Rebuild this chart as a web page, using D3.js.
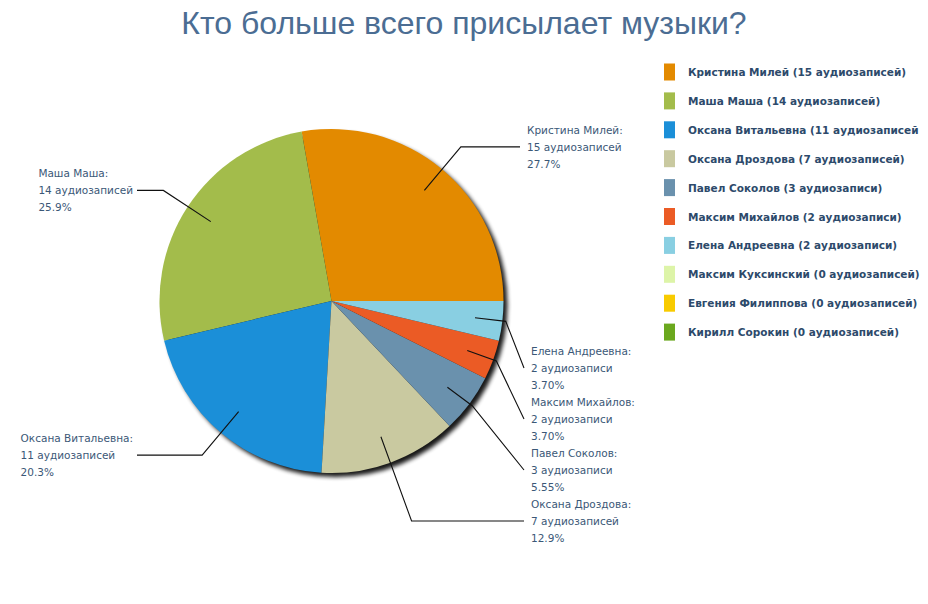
<!DOCTYPE html>
<html><head><meta charset="utf-8">
<script src="https://cdn.jsdelivr.net/npm/d3@7"></script>
<style>body{margin:0;background:#fff} svg{display:block}</style>
</head><body>
<svg id="c" width="928" height="604"></svg>
<script>
const title = "Кто больше всего присылает музыки?";
const categories = ["Кристина Милей","Маша Маша","Оксана Витальевна","Оксана Дроздова","Павел Соколов","Максим Михайлов","Елена Андреевна","Максим Куксинский","Евгения Филиппова","Кирилл Сорокин"];
const values = [15,14,11,7,3,2,2,0,0,0];
const countLabels = ["15 аудиозаписей","14 аудиозаписей","11 аудиозаписей","7 аудиозаписей","3 аудиозаписи","2 аудиозаписи","2 аудиозаписи","0 аудиозаписей","0 аудиозаписей","0 аудиозаписей"];
const legendLabels = ["Кристина Милей (15 аудиозаписей)","Маша Маша (14 аудиозаписей)","Оксана Витальевна (11 аудиозаписей","Оксана Дроздова (7 аудиозаписей)","Павел Соколов (3 аудиозаписи)","Максим Михайлов (2 аудиозаписи)","Елена Андреевна (2 аудиозаписи)","Максим Куксинский (0 аудиозаписей)","Евгения Филиппова (0 аудиозаписей)","Кирилл Сорокин (0 аудиозаписей)"];
const colors = ["#e38a00","#a3bc4b","#1b8fd8","#c9c9a0","#6a91ad","#eb5b25","#89cfe2","#ddf4a8","#f8cb00","#6ba81e"];
// leader routing per slice (layout only)
const routes = ["elbow","elbow","elbow","drop","direct","direct","direct"];

const cx = 331.5, cy = 301, R = 172;
const svg = d3.select("#c");
const total = d3.sum(values);
const pctFmt = v => {
  const p = v / total * 100;
  const k = p >= 10 ? 1 : 2;
  const f = Math.pow(10, k);
  return (Math.floor(p * f + 1e-9) / f).toFixed(k) + "%";
};

svg.append("text").attr("x", 464).attr("y", 34).attr("text-anchor", "middle")
  .attr("font-family", "Liberation Sans, Arial, sans-serif").attr("font-size", 32)
  .attr("fill", "#4b6d93").text(title);

const defs = svg.append("defs");
defs.append("filter").attr("id", "sh").attr("x", "-20%").attr("y", "-20%").attr("width", "140%").attr("height", "140%")
  .append("feGaussianBlur").attr("stdDeviation", 2.2);

const g = svg.append("g").attr("transform", `translate(${cx},${cy})`);
g.append("circle").attr("cx", 4).attr("cy", 4).attr("r", R).attr("fill", "#000").attr("opacity", 0.9).attr("filter", "url(#sh)");

const pie = d3.pie().value(d => d).sort(null).startAngle(Math.PI / 2).endAngle(Math.PI / 2 - 2 * Math.PI);
const arcs = pie(values);
const arc = d3.arc().innerRadius(0).outerRadius(R);
g.selectAll("path.slice").data(arcs.filter(d => d.value > 0)).join("path")
  .attr("class", "slice").attr("d", arc).attr("fill", d => colors[d.index]);

const pt = (a, r) => [Math.sin(a) * r, -Math.cos(a) * r];
const leftX = -194.5, rightX = 188.5, lineH = 17;
const stackY = i => 220 - (i - 3) * 3 * lineH;
const labG = g.append("g");
const line = d3.line();

arcs.forEach((d, i) => {
  if (!d.value) return;
  const m = (d.startAngle + d.endAngle) / 2;
  const S = pt(m, 0.84 * R);
  const right = Math.sin(m) > 0;
  let pts, ly, px;
  if (routes[i] === "elbow") {
    const E = pt(m, 1.17 * R);
    ly = E[1]; px = right ? rightX : leftX;
    pts = [S, E, [px, ly]];
  } else if (routes[i] === "drop") {
    ly = stackY(i);
    const dir = [Math.sin(m), -Math.cos(m)];
    const t = (ly - S[1]) / dir[1];
    const E = [S[0] + dir[0] * t, ly];
    px = rightX + 4;
    pts = [S, E, [px, ly]];
  } else {
    ly = stackY(i);
    const E = pt(m, 1.02 * R);
    px = rightX + 4;
    pts = [S, E, [px, ly]];
  }
  labG.append("path").attr("d", line(pts)).attr("fill", "none").attr("stroke", "#111").attr("stroke-width", 1.1);
  const lines = [categories[i] + ":", countLabels[i], pctFmt(d.value)];
  const t = labG.append("text").attr("font-family", "DejaVu Sans, Verdana, sans-serif").attr("font-size", 10.5).attr("fill", "#3b5877");
  lines.forEach((s, k) => t.append("tspan").attr("y", ly + (k - 1) * lineH + 4).text(s));
  let tx;
  if (right) tx = px + 7;
  else {
    const w = d3.max(t.selectAll("tspan").nodes(), n => n.getComputedTextLength());
    tx = px - 4 - w;
  }
  t.selectAll("tspan").attr("x", tx);
});

const ly0 = 72, lstep = 28.9;
const lg = svg.append("g");
legendLabels.forEach((s, i) => {
  const y = ly0 + i * lstep;
  lg.append("rect").attr("x", 664).attr("y", y - 8.5).attr("width", 11).attr("height", 17).attr("fill", colors[i]);
  lg.append("text").attr("x", 688).attr("y", y + 4).attr("font-family", "DejaVu Sans, Verdana, sans-serif")
    .attr("font-weight", "bold").attr("font-size", 10.5).attr("fill", "#2d4a6b").text(s);
});
</script>
</body></html>
